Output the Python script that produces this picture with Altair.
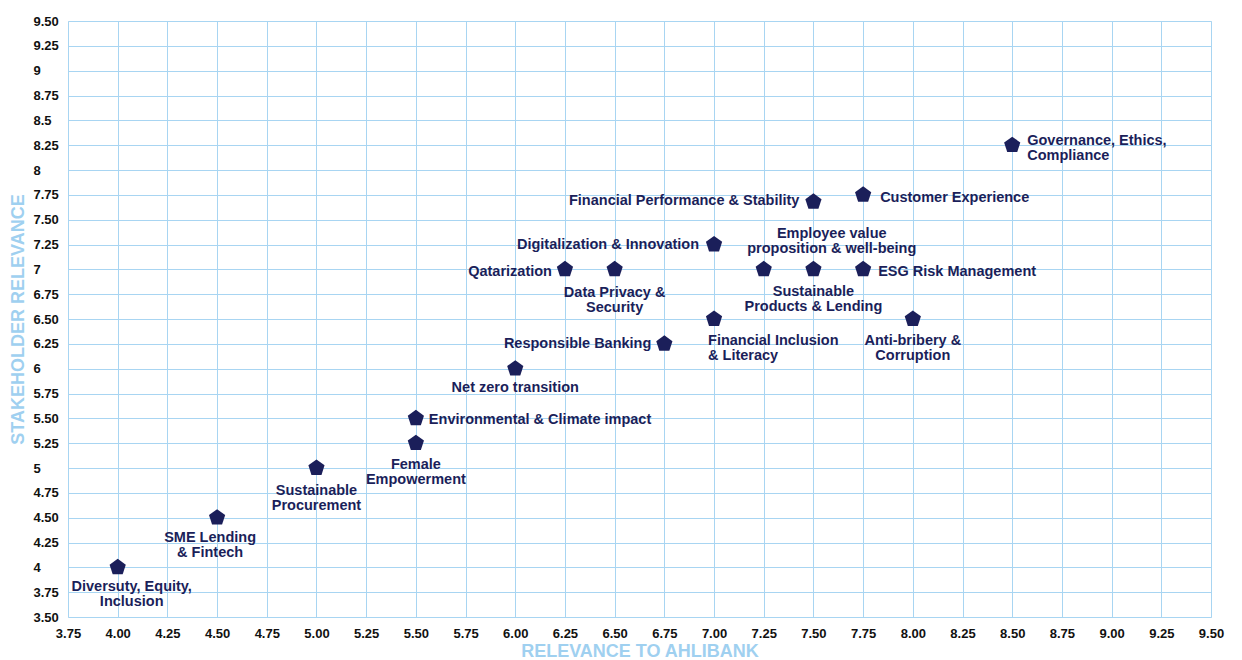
import altair as alt
import pandas as pd

topics = [
    "Diversuty, Equity,\nInclusion",
    "SME Lending\n& Fintech",
    "Sustainable\nProcurement",
    "Female\nEmpowerment",
    "Environmental & Climate impact",
    "Net zero transition",
    "Responsible Banking",
    "Qatarization",
    "Data Privacy &\nSecurity",
    "Digitalization & Innovation",
    "Financial Inclusion\n& Literacy",
    "Financial Performance & Stability",
    "Customer Experience",
    "Governance, Ethics,\nCompliance",
    "Employee value\nproposition & well-being",
    "Sustainable\nProducts & Lending",
    "ESG Risk Management",
    "Anti-bribery &\nCorruption",
]
relevance_ahlibank = [4.0, 4.5, 5.0, 5.5, 5.5, 6.0, 6.75, 6.25, 6.5, 7.0, 7.0, 7.5, 7.75, 8.5, 7.25, 7.5, 7.75, 8.0]
stakeholder_relevance = [4.0, 4.5, 5.0, 5.25, 5.5, 6.0, 6.25, 7.0, 7.0, 7.25, 6.5, 7.68, 7.75, 8.25, 7.0, 7.0, 7.0, 6.5]

x_ticks = [3.75, 4.0, 4.25, 4.5, 4.75, 5.0, 5.25, 5.5, 5.75, 6.0, 6.25, 6.5, 6.75, 7.0, 7.25, 7.5, 7.75, 8.0, 8.25, 8.5, 8.75, 9.0, 9.25, 9.5]
x_tick_labels = ["3.75", "4.00", "4.25", "4.50", "4.75", "5.00", "5.25", "5.50", "5.75", "6.00", "6.25", "6.50", "6.75", "7.00", "7.25", "7.50", "7.75", "8.00", "8.25", "8.50", "8.75", "9.00", "9.25", "9.50"]
y_ticks = [3.5, 3.75, 4.0, 4.25, 4.5, 4.75, 5.0, 5.25, 5.5, 5.75, 6.0, 6.25, 6.5, 6.75, 7.0, 7.25, 7.5, 7.75, 8.0, 8.25, 8.5, 8.75, 9.0, 9.25, 9.5]
y_tick_labels = ["3.50", "3.75", "4", "4.25", "4.50", "4.75", "5", "5.25", "5.50", "5.75", "6", "6.25", "6.50", "6.75", "7", "7.25", "7.50", "7.75", "8", "8.25", "8.5", "8.75", "9", "9.25", "9.50"]

# label placement (align, dx, dy) relative to each marker - layout only
placement = [
    ("center", 14, 20),
    ("center", -7, 20),
    ("center", 0, 23),
    ("center", 0, 22),
    ("left", 13, 2),
    ("center", 0, 19),
    ("right", -13, 0),
    ("right", -13, 3),
    ("center", 0, 24),
    ("right", -15, 0),
    ("left", -6, 22),
    ("right", -14, -1),
    ("left", 17, 3),
    ("left", 15, -4),
    ("center", 68, -35),
    ("center", 0, 23),
    ("left", 15, 3),
    ("center", 0, 22),
]

df = pd.DataFrame({
    "topic": topics,
    "x": relevance_ahlibank,
    "y": stakeholder_relevance,
})

def label_expr(ticks, labels):
    parts = " : ".join(f"datum.value == {t} ? '{l}'" for t, l in zip(ticks, labels))
    return parts + " : ''"

NAVY = "#1b1f5a"
GRID = "#a8d5f2"
TITLE = "#9fd0f0"

xscale = alt.Scale(domain=[3.75, 9.5], nice=False, zero=False)
yscale = alt.Scale(domain=[3.5, 9.5], nice=False, zero=False)

xaxis = alt.Axis(values=x_ticks, labelExpr=label_expr(x_ticks, x_tick_labels), grid=True,
                 gridColor=GRID, gridWidth=1, domain=False, ticks=False,
                 labelFont="Liberation Sans", labelFontWeight="bold", labelFontSize=13,
                 labelColor="#111111", labelPadding=10, labelOverlap=False,
                 title="RELEVANCE TO AHLIBANK", titleFont="Liberation Sans", titleFontSize=18,
                 titleFontWeight="bold", titleColor=TITLE, titlePadding=2, labelFlush=False)
yaxis = alt.Axis(values=y_ticks, labelExpr=label_expr(y_ticks, y_tick_labels), grid=True,
                 gridColor=GRID, gridWidth=1, domain=False, ticks=False,
                 labelFont="Liberation Sans", labelFontWeight="bold", labelFontSize=13,
                 labelColor="#111111", labelPadding=35, labelAlign="left", labelOverlap=False,
                 title="STAKEHOLDER RELEVANCE", titleFont="Liberation Sans", titleFontSize=18,
                 titleFontWeight="bold", titleColor=TITLE, titlePadding=6, labelFlush=False)

pentagon = "M0,-1L0.951,-0.309L0.588,0.809L-0.588,0.809L-0.951,-0.309Z"

points = alt.Chart(df).mark_point(shape=pentagon, filled=True, size=290, color=NAVY, opacity=1).encode(
    x=alt.X("x:Q", scale=xscale, axis=xaxis),
    y=alt.Y("y:Q", scale=yscale, axis=yaxis),
)

layers = [points]
for i, (align, dx, dy) in enumerate(placement):
    layers.append(
        alt.Chart(df.iloc[[i]]).mark_text(
            align=align, baseline="middle", dx=dx, dy=dy, lineBreak="\n",
            font="Liberation Sans", fontWeight="bold", fontSize=14.5, color=NAVY, lineHeight=15,
        ).encode(
            x=alt.X("x:Q", scale=xscale, axis=xaxis),
            y=alt.Y("y:Q", scale=yscale, axis=yaxis),
            text="topic:N",
        )
    )

chart = alt.layer(*layers).properties(
    width=1143, height=596,
    autosize=alt.AutoSizeParams(type="none"),
    padding={"left": 68, "top": 21, "right": 31, "bottom": 43},
).configure_view(stroke=GRID, strokeWidth=1.5).configure(background="white")

chart.save("out.html", embed_options={"renderer": "svg", "actions": False})
